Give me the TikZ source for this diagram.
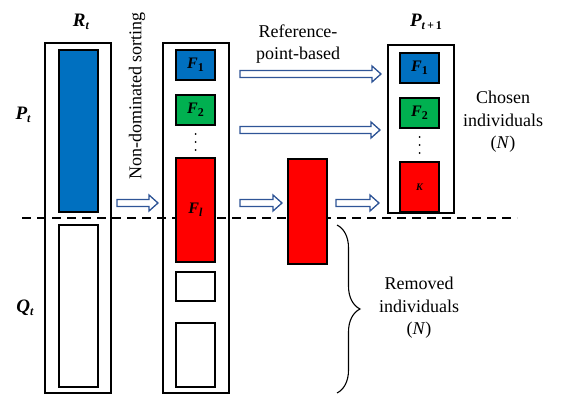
\documentclass[tikz,border=0pt]{standalone}
\usepackage{fontspec}
\setmainfont{Liberation Serif}
\usetikzlibrary{calc,decorations.pathreplacing}
\definecolor{fblue}{HTML}{0070C0}
\definecolor{fgreen}{HTML}{00B050}
\definecolor{fred}{HTML}{FF0000}
\definecolor{ablue}{HTML}{2F5597}
\newcommand\lowsub[2][12]{\raisebox{-0.4ex}{\fontsize{#1}{#1}\selectfont #2}}
\newcommand\blab[2]{{\bfseries\itshape #1\lowsub{#2}}}
\newcommand\blockarrow[2]{%
  \draw[barrow] let \p1=(#1), \p2=(#2) in
    (\x1,\y1+3.5pt) -- (\x2-9pt,\y1+3.5pt) -- (\x2-9pt,\y1+8pt) -- (\x2,\y1)
    -- (\x2-9pt,\y1-8pt) -- (\x2-9pt,\y1-3.5pt) -- (\x1,\y1-3.5pt) -- cycle;}
\newcommand\vdotsat[1]{%
  \fill ($(#1)+(0,-8)$) circle (1pt) (#1) circle (1pt) ($(#1)+(0,8)$) circle (1pt);}
\begin{document}
\begin{tikzpicture}[x=1pt,y=-1pt,
 box/.style={draw=black, line width=1.6pt, inner sep=0pt, minimum width=66pt},
 cell/.style={draw=black, line width=1.4pt, inner sep=0pt, minimum width=39pt},
 barrow/.style={draw=ablue, fill=white, line width=1.3pt, line join=miter},
 txt/.style={font=\fontsize{18}{22.5}\selectfont, align=center, inner sep=0pt},
 lab/.style={font=\fontsize{19}{22}\selectfont, inner sep=0pt},
 flab/.style={font=\fontsize{16}{16}\selectfont, inner sep=0pt}]
\useasboundingbox (0,0) rectangle (562,401);
% outer boxes
\node[box, minimum height=350pt] (rt) at (78,218) {};
\node[box, minimum height=350pt] (c2) at (196,218) {};
\node[box, minimum height=168pt] (pn) at (421,129) {};
% dashed separator
\coordinate (dl) at (22,218);
\coordinate (dr) at (517,218);
\draw[line width=1.6pt, dash pattern=on 9pt off 6pt] (dl) -- (dr);
% R_t cells
\node[cell, fill=fblue, minimum height=162pt] (rb) at (78.5,131) {};
\node[cell, fill=white, minimum height=162pt] (rw) at (78.5,306) {};
% sorted fronts
\node[cell, fill=fblue, minimum height=30pt, flab] (f1) at (195.5,65) {\blab{F}{\upshape 1}};
\node[cell, fill=fgreen, minimum height=30pt, flab] (f2) at (195.5,110) {\blab{F}{\upshape 2}};
\coordinate (d1) at (195.5,142);
\vdotsat{d1}
\node[cell, fill=fred, minimum height=104pt, flab] (fl) at (195.5,210) {\blab{F}{l}};
\node[cell, fill=white, minimum height=29pt] (w1) at (195.5,286.5) {};
\node[cell, fill=white, minimum height=64pt] (w2) at (195.5,355) {};
% middle red
\node[cell, fill=fred, minimum height=105pt] (mr) at (307.5,211.5) {};
% P_{t+1}
\node[cell, fill=fblue, minimum height=30pt, flab] (p1) at (419.5,68) {\blab{F}{\upshape 1}};
\node[cell, fill=fgreen, minimum height=30pt, flab] (p2) at (419.5,113) {\blab{F}{\upshape 2}};
\coordinate (d2) at (419.5,145);
\vdotsat{d2}
\node[cell, fill=fred, minimum height=50pt, font=\fontsize{10}{10}\selectfont\bfseries\itshape] (pk) at (419.5,187) {K};
% arrows
\coordinate (a1s) at (117,203); \coordinate (a1e) at (158,203);
\coordinate (a2s) at (240,74);  \coordinate (a2e) at (381,74);
\coordinate (a3s) at (240,130); \coordinate (a3e) at (380,130);
\coordinate (a4s) at (240,203); \coordinate (a4e) at (282,203);
\coordinate (a5s) at (336,203); \coordinate (a5e) at (379,203);
\blockarrow{a1s}{a1e}
\blockarrow{a2s}{a2e}
\blockarrow{a3s}{a3e}
\blockarrow{a4s}{a4e}
\blockarrow{a5s}{a5e}
% labels
\node[lab] (lr) at (81,22) {\blab{R}{t}};
\node[lab] (lp) at (23,115) {\blab{P}{t}};
\node[lab] (lq) at (25,308) {\blab{Q}{t}};
\node[lab] (lpn) at (426,22) {\blab{P}{t\,+\,\upshape 1}};
\node[txt, rotate=90] (ns) at (137,96) {Non-dominated sorting};
\node[txt] (rp) at (298,44) {Reference-\\point-based};
\node[txt] (ch) at (503,122) {Chosen\\individuals\\(\textit{N})};
\node[txt] (rm) at (419,308) {Removed\\individuals\\(\textit{N})};
% brace
\coordinate (bt) at (337,225);
\coordinate (bb) at (337,393);
\draw[line width=1.1pt, decorate, decoration={brace, amplitude=23pt}] (bt) -- (bb);
\end{tikzpicture}
\end{document}
